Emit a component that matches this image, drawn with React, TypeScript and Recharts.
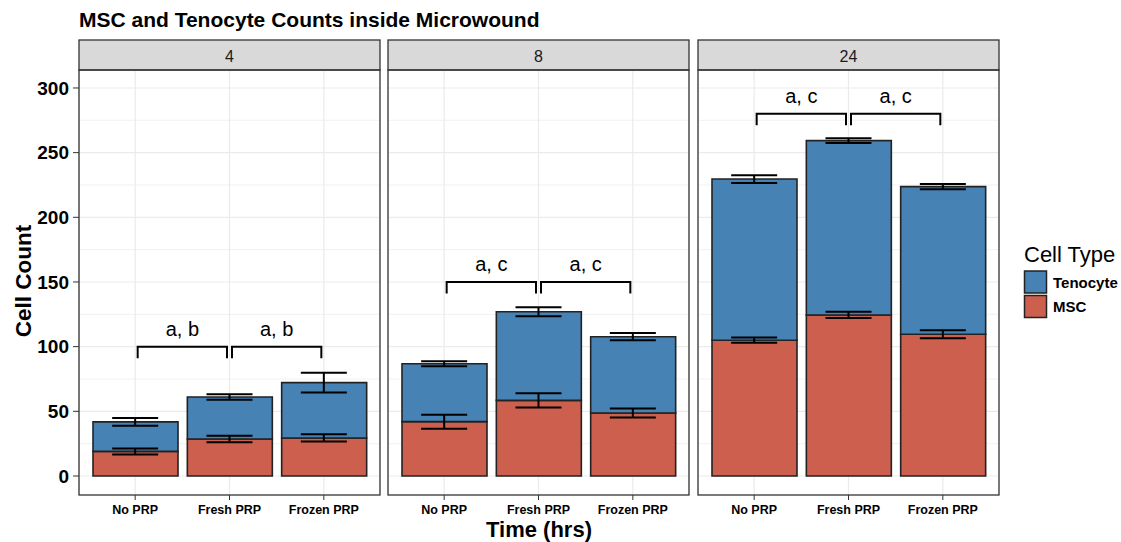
import React from 'react';
import { ComposedChart, Bar, Line, XAxis, YAxis, CartesianGrid, ErrorBar, ReferenceLine } from 'recharts';

const FONT = "'Liberation Sans', Arial, sans-serif";

const treatments = ['No PRP', 'Fresh PRP', 'Frozen PRP'];
const timepoints = ['4', '8', '24'];

// mean counts, one row per time point, treatments in order
const mscCounts = [
  [19, 28.6, 29.4],
  [42, 58.5, 48.7],
  [105, 124.5, 109.6],
];
const mscErrors = [
  [2.3, 2.5, 2.8],
  [5.4, 5.5, 3.5],
  [2, 2.4, 3.1],
];
const tenocyteCounts = [
  [22.8, 32.5, 42.8],
  [44.8, 68.5, 59],
  [124.6, 134.8, 114.1],
];
const tenocyteErrors = [
  [3, 2.1, 7.6],
  [2, 3.5, 2.8],
  [3, 1.8, 2],
];

const bracketHeights = [100, 150, 280];
const bracketLabels = ['a, b', 'a, c', 'a, c'];

const yTicks = [0, 50, 100, 150, 200, 250, 300];
const minorTicks = [25, 75, 125, 175, 225, 275];
const yDomain = [-14.7, 313.9];

const TENOCYTE = '#4682B4';
const MSC = '#CC5F4D';

const panelLefts = [79, 388, 698];
const PANEL_W = 301;
const PANEL_TOP = 70;
const PANEL_H = 425;

const bracketShape = (label: string) => (props: any) => {
  const { x1, y1, x2 } = props;
  const a = x1 + 2.5;
  const b = x2 - 2.5;
  return (
    <g>
      <path d={`M${a},${y1 + 11.5}V${y1}H${b}V${y1 + 11.5}`} fill="none" stroke="#000" strokeWidth={2} />
      <text x={(a + b) / 2} y={y1 - 10.5} textAnchor="middle" fontSize={20} fill="#000">
        {label}
      </text>
    </g>
  );
};

function Panel({ index }: { index: number }) {
  const first = index === 0;
  const data = treatments.map((t, i) => ({
    treatment: t,
    msc: mscCounts[index][i],
    tenocyte: tenocyteCounts[index][i],
    mscTop: mscCounts[index][i],
    total: mscCounts[index][i] + tenocyteCounts[index][i],
    mscErr: mscErrors[index][i],
    tenErr: tenocyteErrors[index][i],
  }));
  const yAxisW = first ? 79 : 0;
  const label = bracketLabels[index];
  const h = bracketHeights[index];

  return (
    <div style={{ position: 'absolute', left: panelLefts[index] - yAxisW, top: PANEL_TOP }}>
      <ComposedChart
        width={PANEL_W + yAxisW}
        height={PANEL_H + 30}
        data={data}
        margin={{ top: 0, right: 0, bottom: 0, left: 0 }}
      >
        <CartesianGrid horizontalValues={minorTicks} vertical={false} stroke="#EBEBEB" strokeWidth={0.7} />
        <CartesianGrid horizontalValues={yTicks} stroke="#EBEBEB" strokeWidth={1.2} />
        <XAxis
          dataKey="treatment"
          interval={0}
          padding={{ left: 9, right: 9 }}
          axisLine={false}
          tickLine={{ stroke: '#333' }}
          tickSize={5}
          tickMargin={5}
          height={30}
          tick={{ fill: '#000', fontSize: 12.5, fontWeight: 'bold' }}
        />
        <YAxis
          type="number"
          domain={yDomain}
          allowDataOverflow
          ticks={yTicks}
          interval={0}
          hide={!first}
          width={yAxisW}
          axisLine={false}
          tickLine={{ stroke: '#333' }}
          tickSize={6}
          tickMargin={4}
          tick={{ fill: '#000', fontSize: 19, fontWeight: 'bold' }}
        />
        <Bar dataKey="msc" stackId="cells" fill={MSC} stroke="#222" strokeWidth={1.6} barSize={85} isAnimationActive={false} />
        <Bar dataKey="tenocyte" stackId="cells" fill={TENOCYTE} stroke="#222" strokeWidth={1.6} barSize={85} isAnimationActive={false} />
        <Line dataKey="mscTop" stroke="none" dot={false} activeDot={false} isAnimationActive={false}>
          <ErrorBar dataKey="mscErr" direction="y" width={23} stroke="#000" strokeWidth={2} />
        </Line>
        <Line dataKey="total" stroke="none" dot={false} activeDot={false} isAnimationActive={false}>
          <ErrorBar dataKey="tenErr" direction="y" width={23} stroke="#000" strokeWidth={2} />
        </Line>
        <ReferenceLine
          segment={[{ x: treatments[0], y: h }, { x: treatments[1], y: h }]}
          shape={bracketShape(label)}
        />
        <ReferenceLine
          segment={[{ x: treatments[1], y: h }, { x: treatments[2], y: h }]}
          shape={bracketShape(label)}
        />
      </ComposedChart>
    </div>
  );
}

export default function App() {
  return (
    <div
      style={{
        position: 'absolute',
        left: 0,
        top: 0,
        width: 1121,
        height: 542,
        background: '#fff',
        overflow: 'hidden',
        fontFamily: FONT,
      }}
    >
      {timepoints.map((t, i) => (
        <Panel key={t} index={i} />
      ))}
      <svg width={1121} height={542} style={{ position: 'absolute', left: 0, top: 0, pointerEvents: 'none' }}>
        <text x={79} y={27} fontSize={21} fontWeight="bold" fill="#000">
          MSC and Tenocyte Counts inside Microwound
        </text>
        {timepoints.map((t, i) => (
          <g key={t}>
            <rect x={panelLefts[i]} y={40} width={PANEL_W} height={30} fill="#D9D9D9" stroke="#333" strokeWidth={1.3} />
            <text x={panelLefts[i] + PANEL_W / 2} y={61.5} textAnchor="middle" fontSize={16} fill="#1A1A1A">
              {t}
            </text>
            <rect x={panelLefts[i]} y={PANEL_TOP} width={PANEL_W} height={PANEL_H} fill="none" stroke="#333" strokeWidth={1.3} />
          </g>
        ))}
        <text
          transform="translate(30.5,281) rotate(-90)"
          textAnchor="middle"
          fontSize={22.5}
          fontWeight="bold"
          fill="#000"
        >
          Cell Count
        </text>
        <text x={539} y={537} textAnchor="middle" fontSize={22} fontWeight="bold" fill="#000">
          Time (hrs)
        </text>
        <text x={1024} y={262} fontSize={22} fill="#000">
          Cell Type
        </text>
        <rect x={1024.5} y={271} width={22} height={22} fill={TENOCYTE} stroke="#222" strokeWidth={1.5} />
        <rect x={1024.5} y={295.5} width={22} height={22} fill={MSC} stroke="#222" strokeWidth={1.5} />
        <text x={1053} y={287.5} fontSize={15} fontWeight="bold" fill="#000">
          Tenocyte
        </text>
        <text x={1053} y={312} fontSize={15} fontWeight="bold" fill="#000">
          MSC
        </text>
      </svg>
    </div>
  );
}
